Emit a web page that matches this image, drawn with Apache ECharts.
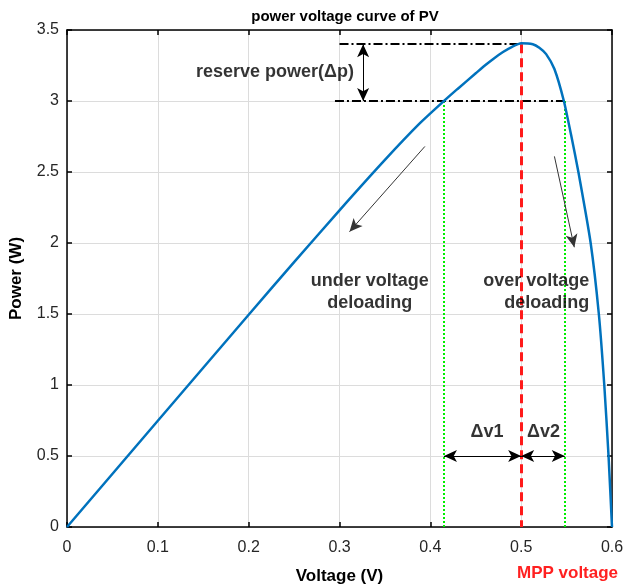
<!DOCTYPE html>
<html>
<head>
<meta charset="utf-8">
<script src="https://cdn.jsdelivr.net/npm/echarts@6/dist/echarts.min.js"></script>
<style>
html, body { margin: 0; padding: 0; background: #fff; }
#pv { width: 627px; height: 585px; }
</style>
</head>
<body>
<div id="pv"></div>
<script>
// values
var voltage = [0, 0.1, 0.2, 0.25, 0.3, 0.35, 0.388, 0.415, 0.43, 0.45, 0.46, 0.47, 0.48, 0.49, 0.5, 0.5128, 0.52, 0.5275, 0.5366, 0.547, 0.555, 0.563, 0.5765, 0.5855, 0.5915, 0.5962, 0.6];
var power = [0, 0.748, 1.495, 1.865, 2.23, 2.585, 2.84, 3.0, 3.085, 3.195, 3.25, 3.3, 3.345, 3.382, 3.407, 3.4, 3.375, 3.33, 3.225, 3.0, 2.76, 2.5, 2.0, 1.5, 1.0, 0.5, 0];
var xTicks = ['0', '0.1', '0.2', '0.3', '0.4', '0.5', '0.6'];
var yTicks = ['0', '0.5', '1', '1.5', '2', '2.5', '3', '3.5'];

var mppV = 0.5, mppP = 3.4, deloadP = 3.0;
var v1 = 0.415, v2 = 0.548;
var textMarks = [
	[0.316, 3.204, 'reserve power(Δp)', 'right'],
	[0.3333, 1.656, 'under voltage\ndeloading', 'center'],
	[0.575, 1.656, 'over voltage\ndeloading', 'right'],
	[0.4625, 0.67, 'Δv1', 'center'],
	[0.5245, 0.67, 'Δv2', 'center']
];

var myChart = echarts.init(document.getElementById('pv'));
var curve = [];
for (var i = 0; i < voltage.length; i++) {
	curve.push([voltage[i], power[i]]);
}
var tickFont = { fontFamily: 'Liberation Sans', fontSize: 16, color: '#262626' };
var nameFont = { fontFamily: 'Liberation Sans', fontSize: 17, fontWeight: 'bold', color: '#000' };
var tickStyle = { inside : true, length : 5, lineStyle : { color : '#000', width : 1.5 } };
var lineBlack = { color : '#000', width : 1.5 };

var option = {
	animation : false,
	title : {
		text : 'power voltage curve of PV',
		left : 340,
		top : 4,
		textAlign : 'center',
		textStyle : { fontFamily: 'Liberation Sans', fontSize: 15, fontWeight: 'bold', color: '#000' }
	},
	grid : {
		left : 67,
		right : 15,
		top : 30,
		bottom : 58,
		outerBoundsMode : 'none'
	},
	xAxis : [ {
		type : 'value',
		min : 0,
		max : 0.6,
		interval : 0.1,
		name : 'Voltage (V)',
		nameLocation : 'middle',
		nameGap : 41,
		nameTextStyle : nameFont,
		axisLine : { onZero : false, lineStyle : lineBlack },
		axisTick : tickStyle,
		axisLabel : {
			fontFamily : tickFont.fontFamily, fontSize : tickFont.fontSize, color : tickFont.color, margin : 13,
			formatter : function(v) { return xTicks[Math.round(v * 10)]; }
		},
		splitLine : { show : true, lineStyle : { color : '#dcdcdc', width : 1 } }
	}, {
		type : 'value',
		position : 'top',
		min : 0,
		max : 0.6,
		interval : 0.1,
		axisLine : { show : true, onZero : false, lineStyle : lineBlack },
		axisTick : tickStyle,
		axisLabel : { show : false },
		splitLine : { show : false }
	} ],
	yAxis : [ {
		type : 'value',
		min : 0,
		max : 3.5,
		interval : 0.5,
		name : 'Power (W)',
		nameLocation : 'middle',
		nameGap : 42,
		nameTextStyle : nameFont,
		axisLine : { show : true, onZero : false, lineStyle : lineBlack },
		axisTick : { show : true, inside : true, length : 5, lineStyle : lineBlack },
		axisLabel : {
			fontFamily : tickFont.fontFamily, fontSize : tickFont.fontSize, color : tickFont.color, margin : 8,
			formatter : function(v) { return yTicks[Math.round(v * 2)]; }
		},
		splitLine : { show : true, lineStyle : { color : '#dcdcdc', width : 1 } }
	}, {
		type : 'value',
		position : 'right',
		min : 0,
		max : 3.5,
		interval : 0.5,
		axisLine : { show : true, onZero : false, lineStyle : lineBlack },
		axisTick : { show : true, inside : true, length : 5, lineStyle : lineBlack },
		axisLabel : { show : false },
		splitLine : { show : false }
	} ],
	graphic : [ {
		type : 'text',
		left : 517,
		top : 565,
		style : {
			text : 'MPP voltage',
			fill : '#ff2020',
			font : 'bold 17px "Liberation Sans"',
			textAlign : 'center'
		}
	} ],
	series : [ {
		name : 'guides',
		type : 'line',
		data : [],
		silent : true,
		markLine : {
			silent : true,
			animation : false,
			symbol : [ 'none', 'none' ],
			label : { show : false },
			data : [
				[ { coord : [ 0.3, mppP ], lineStyle : { color : '#000', width : 2, type : [ 9, 3, 2, 3 ] } }, { coord : [ mppV, mppP ] } ],
				[ { coord : [ 0.295, deloadP ], lineStyle : { color : '#000', width : 2, type : [ 9, 3, 2, 3 ] } }, { coord : [ v2, deloadP ] } ],
				[ { coord : [ v1, deloadP ], lineStyle : { color : '#00ee00', width : 2, type : [ 2, 2 ] } }, { coord : [ v1, 0 ] } ],
				[ { coord : [ v2, deloadP ], lineStyle : { color : '#00ee00', width : 2, type : [ 2, 2 ] } }, { coord : [ v2, 0 ] } ],
				[ { coord : [ mppV, mppP ], lineStyle : { color : '#ff1a1a', width : 3, type : [ 9, 5 ] } }, { coord : [ mppV, 0 ] } ]
			]
		}
	}, {
		name : 'arrows',
		type : 'line',
		data : [],
		silent : true,
		markLine : {
			silent : true,
			animation : false,
			label : { show : false },
			data : [
				[ { coord : [ 0.326, mppP ], symbol : 'arrow', symbolSize : [ 9, 13 ], lineStyle : { color : '#000', width : 1, type : 'solid' } }, { coord : [ 0.326, deloadP ], symbol : 'arrow', symbolSize : [ 9, 13 ] } ],
				[ { coord : [ v1, 0.5 ], symbol : 'arrow', symbolSize : [ 9, 13 ], lineStyle : { color : '#000', width : 1, type : 'solid' } }, { coord : [ mppV, 0.5 ], symbol : 'arrow', symbolSize : [ 9, 13 ] } ],
				[ { coord : [ mppV, 0.5 ], symbol : 'arrow', symbolSize : [ 9, 13 ], lineStyle : { color : '#000', width : 1, type : 'solid' } }, { coord : [ v2, 0.5 ], symbol : 'arrow', symbolSize : [ 9, 13 ] } ],
				[ { coord : [ 0.394, 2.68 ], symbol : 'none', lineStyle : { color : '#333', width : 1, type : 'solid' } }, { coord : [ 0.311, 2.08 ], symbol : 'arrow', symbolSize : [ 9, 13 ] } ],
				[ { coord : [ 0.5366, 2.61 ], symbol : 'none', lineStyle : { color : '#333', width : 1, type : 'solid' } }, { coord : [ 0.5585, 1.97 ], symbol : 'arrow', symbolSize : [ 9, 13 ] } ]
			]
		}
	}, {
		name : 'PV',
		type : 'line',
		data : curve,
		smooth : 0.2,
		showSymbol : false,
		lineStyle : { color : '#0072bd', width : 2.5 },
		z : 5
	}, {
		name : 'notes',
		type : 'scatter',
		symbolSize : 0,
		silent : true,
		data : textMarks.map(function(t) {
			return { value : [ t[0], t[1] ], text : t[2], label : { align : t[3] } };
		}),
		label : {
			show : true,
			position : 'inside',
			formatter : function(p) { return p.data.text; },
			fontFamily : 'Liberation Sans',
			fontSize : 18,
			fontWeight : 'bold',
			color : '#000',
			lineHeight : 22
		},
		z : 6
	} ]
};
myChart.setOption(option);
</script>
</body>
</html>
